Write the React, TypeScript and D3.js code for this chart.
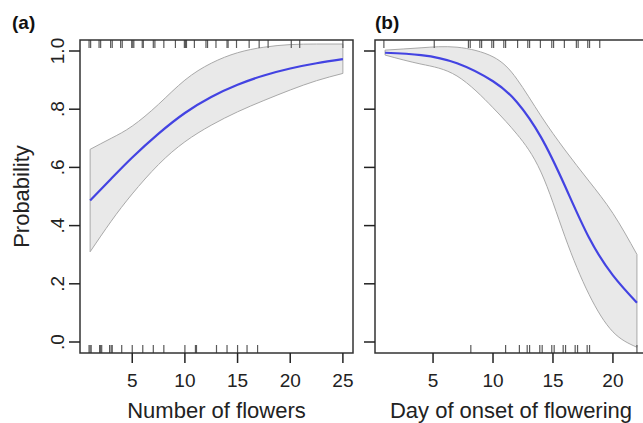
import React, { useEffect, useRef } from "react";
import * as d3 from "d3";

// Panel (a): number of flowers
const flowersX = [1, 3, 5, 7.5, 10, 12.5, 15, 17.5, 20, 22.5, 25];
const flowersFit = [0.486, 0.561, 0.634, 0.716, 0.787, 0.842, 0.884, 0.916, 0.94, 0.958, 0.972];
const flowersUpper = [0.662, 0.7, 0.742, 0.817, 0.9, 0.958, 0.994, 1.013, 1.022, 1.024, 1.024];
const flowersLower = [0.31, 0.415, 0.509, 0.61, 0.688, 0.745, 0.791, 0.83, 0.866, 0.898, 0.923];
const flowersRugTop = [
  0.9, 1.05, 1.85, 2.0, 2.95, 3.1, 3.9, 4.05, 4.95, 5.05, 5.15, 5.95, 6.05, 7.0, 7.15, 8.0,
  9.1, 9.95, 10.05, 10.15, 10.9, 12.0, 12.15, 12.95, 14.0, 14.1, 14.9, 16.1, 17.05, 17.9,
  20.1, 20.9, 25.0,
];
const flowersRugBottom = [
  0.9, 1.0, 1.1, 1.9, 2.0, 2.1, 2.85, 3.0, 3.1, 4.0, 5.0, 6.0, 7.0, 8.0, 10.0, 11.0, 11.1,
  13.0, 14.0, 15.0, 15.9, 16.9,
];
const flowersTicks = [5, 10, 15, 20, 25];

// Panel (b): day of onset of flowering
const onsetX = [1, 4, 7, 10, 12, 14, 16, 18, 20, 22];
const onsetFit = [0.994, 0.986, 0.958, 0.896, 0.824, 0.704, 0.536, 0.359, 0.229, 0.135];
const onsetUpper = [1.003, 1.011, 1.013, 0.98, 0.903, 0.777, 0.66, 0.553, 0.442, 0.301];
const onsetLower = [0.986, 0.955, 0.914, 0.805, 0.714, 0.584, 0.362, 0.164, 0.035, -0.018];
const onsetRugTop = [
  0.9, 5.1, 7.95, 8.1, 8.9, 9.05, 9.9, 10.05, 10.9, 11.05, 12.05, 12.9, 13.05, 13.95, 14.9,
  15.05, 15.95, 16.95, 17.1, 17.9, 18.05, 18.9,
];
const onsetRugBottom = [
  8.15, 11.05, 12.2, 12.85, 13.05, 13.9, 14.1, 14.9, 15.1, 15.85, 16.05, 16.85, 17.05, 17.85,
  18.05, 22.0,
];
const onsetTicks = [5, 10, 15, 20];

const probTicks = [0, 0.2, 0.4, 0.6, 0.8, 1.0];
const probLabels = [".0", ".2", ".4", ".6", ".8", "1.0"];

const FONT = "'Liberation Sans', Arial, Helvetica, sans-serif";

const App = () => {
  const svgRef = useRef(null);

  useEffect(() => {
    const width = 643;
    const height = 423;
    const top = 40;
    const bottom = 353;

    const svg = d3.select(svgRef.current).attr("width", width).attr("height", height);
    svg.selectAll("*").remove();

    const y = d3.scaleLinear().domain([0, 1]).range([342, 51]);

    const panels = [
      {
        left: 80, right: 353, domain: [0.04, 25.96], xs: flowersX, fit: flowersFit,
        upper: flowersUpper, lower: flowersLower, rugTop: flowersRugTop,
        rugBottom: flowersRugBottom, ticks: flowersTicks, title: "Number of flowers",
        tag: "(a)", tagX: 12, yLabels: true,
      },
      {
        left: 375, right: 647, domain: [0.16, 22.84], xs: onsetX, fit: onsetFit,
        upper: onsetUpper, lower: onsetLower, rugTop: onsetRugTop,
        rugBottom: onsetRugBottom, ticks: onsetTicks, title: "Day of onset of flowering",
        tag: "(b)", tagX: 375, yLabels: false,
      },
    ];

    panels.forEach((p, pi) => {
      const x = d3.scaleLinear().domain(p.domain).range([p.left, p.right]);
      const g = svg.append("g");

      const clipId = "clip" + pi;
      svg.append("clipPath").attr("id", clipId)
        .append("rect").attr("x", p.left).attr("y", top)
        .attr("width", p.right - p.left).attr("height", bottom - top);

      const pts = p.xs.map((v, i) => ({ v, fit: p.fit[i], hi: p.upper[i], lo: p.lower[i] }));
      const curve = d3.curveNatural;

      const area = d3.area()
        .x((d) => x(d.v)).y0((d) => y(d.lo)).y1((d) => y(d.hi)).curve(curve);
      g.append("path").datum(pts).attr("d", area)
        .attr("clip-path", `url(#${clipId})`)
        .attr("fill", "#e9e9e9").attr("stroke", "#a9a9a9").attr("stroke-width", 1);

      const line = d3.line().x((d) => x(d.v)).y((d) => y(d.fit)).curve(curve);
      g.append("path").datum(pts).attr("d", line)
        .attr("fill", "none").attr("stroke", "#4343e2").attr("stroke-width", 2.2);

      // rugs
      g.selectAll(".rt").data(p.rugTop).enter().append("line")
        .attr("x1", (d) => x(d)).attr("x2", (d) => x(d))
        .attr("y1", top).attr("y2", top + 8)
        .attr("stroke", "#5a5a5a").attr("stroke-width", 1.2);
      g.selectAll(".rb").data(p.rugBottom).enter().append("line")
        .attr("x1", (d) => x(d)).attr("x2", (d) => x(d))
        .attr("y1", bottom).attr("y2", bottom - 8)
        .attr("stroke", "#5a5a5a").attr("stroke-width", 1.2);

      // box
      g.append("rect").attr("x", p.left).attr("y", top)
        .attr("width", p.right - p.left).attr("height", bottom - top)
        .attr("fill", "none").attr("stroke", "#333").attr("stroke-width", 1.5);

      // x axis
      g.selectAll(".xt").data(p.ticks).enter().append("line")
        .attr("x1", (d) => x(d)).attr("x2", (d) => x(d))
        .attr("y1", bottom).attr("y2", bottom + 10)
        .attr("stroke", "#222").attr("stroke-width", 1.5);
      g.selectAll(".xl").data(p.ticks).enter().append("text")
        .attr("x", (d) => x(d)).attr("y", 387)
        .attr("text-anchor", "middle").attr("font-family", FONT).attr("font-size", 19)
        .attr("fill", "#222").text((d) => d);
      g.append("text").attr("x", (p.left + p.right) / 2).attr("y", 418)
        .attr("text-anchor", "middle").attr("font-family", FONT).attr("font-size", 22)
        .attr("fill", "#222").text(p.title);

      // y axis
      g.selectAll(".yt").data(probTicks).enter().append("line")
        .attr("x1", p.left - 11).attr("x2", p.left)
        .attr("y1", (d) => y(d)).attr("y2", (d) => y(d))
        .attr("stroke", "#222").attr("stroke-width", 1.5);
      if (p.yLabels) {
        g.selectAll(".yl").data(probTicks).enter().append("text")
          .attr("transform", (d) => `translate(64,${y(d)}) rotate(-90)`)
          .attr("text-anchor", "middle").attr("font-family", FONT).attr("font-size", 19)
          .attr("fill", "#222").text((d, i) => probLabels[i]);
        g.append("text")
          .attr("transform", `translate(29,${(top + bottom) / 2}) rotate(-90)`)
          .attr("text-anchor", "middle").attr("font-family", FONT).attr("font-size", 22)
          .attr("fill", "#222").text("Probability");
      }

      g.append("text").attr("x", p.tagX).attr("y", 29)
        .attr("font-family", FONT).attr("font-size", 19).attr("font-weight", "bold")
        .attr("fill", "#111").text(p.tag);
    });
  }, []);

  return (
    <svg
      ref={svgRef}
      style={{ position: "absolute", left: 0, top: 0, background: "#fff" }}
    ></svg>
  );
};

export default App;
